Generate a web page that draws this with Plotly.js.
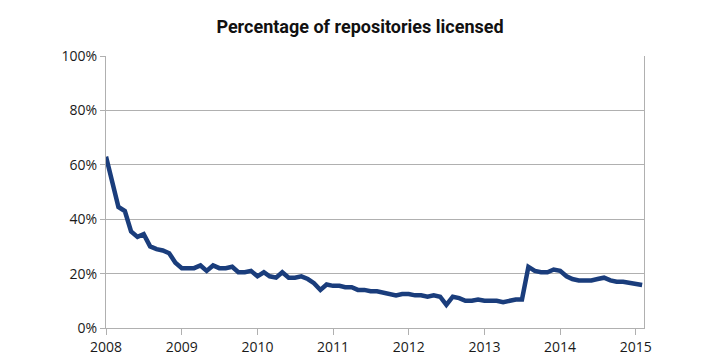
<!DOCTYPE html>
<html>
<head>
<meta charset="utf-8">
<script src="https://cdn.plot.ly/plotly-3.0.1.min.js"></script>
<style>html,body{margin:0;padding:0;background:#fff;}#chart{width:720px;height:360px;}</style>
</head>
<body>
<div id="chart"></div>
<script>
const startYear = 2008;
const licensedPct = [
  63, 54, 44.5, 43, 35.5, 33.5, 34.5, 30, 29, 28.5, 27.5, 24,
  22, 22, 22, 23, 21, 23, 22, 22, 22.5, 20.5, 20.5, 21,
  19, 20.5, 19, 18.5, 20.5, 18.5, 18.5, 19, 18, 16.5, 14, 16,
  15.5, 15.5, 15, 15, 14, 14, 13.5, 13.5, 13, 12.5, 12, 12.5,
  12.5, 12, 12, 11.5, 12, 11.5, 8.5, 11.5, 11, 10, 10, 10.5,
  10, 10, 10, 9.5, 10, 10.5, 10.5, 22.5, 21, 20.5, 20.5, 21.5,
  21, 19, 18, 17.5, 17.5, 17.5, 18, 18.5, 17.5, 17, 17, 16.5,
  16.2, 15.8
];
const months = licensedPct.map((_, i) => {
  const y = startYear + Math.floor(i / 12);
  const m = (i % 12) + 1;
  return y + '-' + String(m).padStart(2, '0') + '-01';
});
const yearTicks = ['2008-01-01','2009-01-01','2010-01-01','2011-01-01','2012-01-01','2013-01-01','2014-01-01','2015-01-01'];
const yearLabels = ['2008','2009','2010','2011','2012','2013','2014','2015'];
const yTicks = [0, 20, 40, 60, 80, 100];
const yLabels = ['0%', '20%', '40%', '60%', '80%', '100%'];

const trace = {
  x: months,
  y: licensedPct,
  type: 'scatter',
  mode: 'lines',
  line: { color: '#1a3d7c', width: 4.5 },
  hoverinfo: 'skip'
};

const layout = {
  width: 720, height: 360,
  margin: { l: 106, r: 76, t: 56, b: 32 },
  paper_bgcolor: '#fff', plot_bgcolor: '#fff',
  title: {
    text: '<b>Percentage of repositories licensed</b>',
    font: { family: 'Roboto, sans-serif', size: 18, color: '#111' },
    x: 0.5, xanchor: 'center', y: 0.925, yanchor: 'middle'
  },
  showlegend: false,
  font: { family: 'Open Sans, Roboto, sans-serif', size: 14, color: '#1a1a1a' },
  xaxis: {
    type: 'date',
    range: ['2008-01-01', '2015-02-10'],
    tickvals: yearTicks, ticktext: yearLabels,
    showgrid: false, zeroline: false,
    showline: true, linecolor: '#b0b0b0', linewidth: 1,
    ticks: 'outside', ticklen: 6, tickcolor: '#b0b0b0',
    tickfont: { family: 'Open Sans, Roboto, sans-serif', size: 14, color: '#1a1a1a' }
  },
  yaxis: {
    range: [0, 100],
    tickvals: yTicks, ticktext: yLabels,
    showgrid: true, gridcolor: '#b0b0b0', gridwidth: 1,
    zeroline: false,
    showline: true, linecolor: '#b0b0b0', linewidth: 1, mirror: true,
    ticks: 'outside', ticklen: 5, tickcolor: '#b0b0b0',
    tickfont: { family: 'Open Sans, Roboto, sans-serif', size: 14, color: '#1a1a1a' }
  }
};

Plotly.newPlot('chart', [trace], layout, { staticPlot: true, displayModeBar: false });
</script>
</body>
</html>
